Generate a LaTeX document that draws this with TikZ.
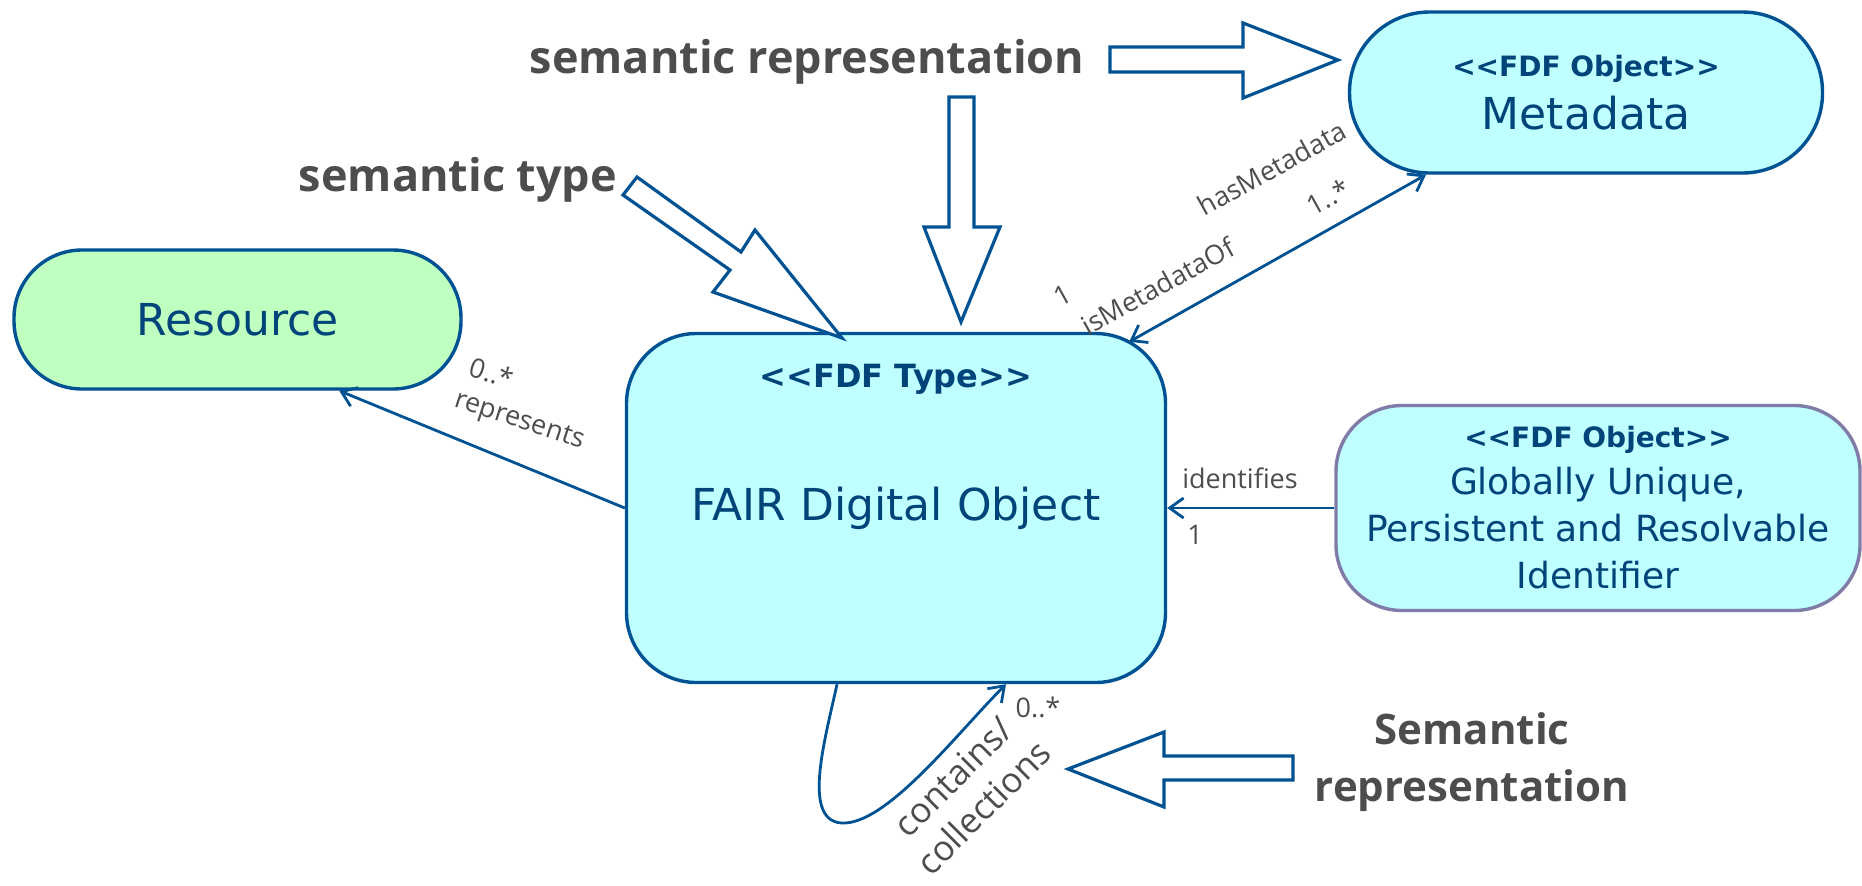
\documentclass[tikz,border=0pt]{standalone}
\usepackage{fontspec}
\setmainfont{DejaVu Sans}
\newfontfamily\notefont{Open Sans}
\usetikzlibrary{arrows.meta}

\definecolor{umlblue}{RGB}{0,82,147}
\definecolor{umltext}{RGB}{0,68,122}
\definecolor{fdocyan}{RGB}{191,255,255}
\definecolor{resgreen}{RGB}{191,255,192}
\definecolor{pidborder}{RGB}{128,124,168}
\definecolor{notegray}{RGB}{77,77,77}

\newcommand{\stereo}[1]{<\kern0pt<#1>\kern0pt>}

\begin{document}
\begin{tikzpicture}[x=0.5pt, y=-0.5pt,
    box/.style={draw=umlblue, line width=1.7pt, fill=fdocyan, text=umltext, align=center, inner sep=0pt},
    assoc/.style={draw=umlblue, line width=1.4pt},
    endarrow/.style={-{Straight Barb[length=7pt, width=10pt, line width=1.4pt]}},
    role/.style={text=notegray, font=\notefont\fontsize{13.5}{16}\selectfont, inner sep=1pt},
    hollow/.style={draw=umlblue, line width=1.6pt, fill=white, line join=miter},
    remark/.style={text=notegray, font=\notefont\bfseries\fontsize{22.5}{28.5}\selectfont, align=center, inner sep=0pt}]
\useasboundingbox (0,0) rectangle (1862,885);

\node [box, fill=resgreen, minimum width=223.5pt, minimum height=69.5pt, rounded corners=34pt,
       font=\fontsize{22}{26}\selectfont] (res) at (237.5,319.5) {Resource};
\node [box, minimum width=269.5pt, minimum height=174.5pt, rounded corners=35pt,
       font=\fontsize{22}{26}\selectfont] (fdo) at (896,508) {FAIR Digital Object};
\node [text=umltext, font=\bfseries\fontsize{16}{18}\selectfont] (fdotype) at ([yshift=-23.5pt]fdo.north) {\stereo{FDF Type}};
\node [box, minimum width=236.5pt, minimum height=80.5pt, rounded corners=40pt,
       font=\fontsize{22}{24}\selectfont] (md) at (1586,92.5)
       {{\bfseries\fontsize{14}{24}\selectfont\stereo{FDF Object}}\\[2.5pt]Metadata};
\node [box, draw=pidborder, minimum width=262pt, minimum height=102.5pt, rounded corners=33pt,
       font=\fontsize{18}{23.5}\selectfont] (pid) at (1598,508)
       {{\bfseries\fontsize{14}{23.5}\selectfont\stereo{FDF Object}}\\Globally Unique,\\Persistent and Resolvable\\Identifier};

% associations
\draw [assoc, endarrow] (fdo.west) -- (res.-35);
\node [role, rotate=-18] (resmult) at (492,373) {0..*};
\node [role, rotate=-18] (resrole) at (519,422) {represents};

\draw [assoc, {Straight Barb[length=7pt, width=10pt, line width=1.4pt]}-{Straight Barb[length=7pt, width=10pt, line width=1.4pt]}]
  ([xshift=-19pt, yshift=-5pt]fdo.north east) -- ([xshift=-80pt]md.south);
\node [role, rotate=29] (mdrole) at (1272,168) {hasMetadata};
\node [role, rotate=29] (mdmult) at (1328,197) {1..*};
\node [role, rotate=29] (fdorole) at (1158,286) {isMetadataOf};
\node [role, rotate=29] (fdomult) at (1063,295) {1};

\draw [assoc, endarrow] (pid.west) -- (fdo.east);
\node [role] (pidrole) at (1240,478) {identifies};
\node [role] (pidmult) at (1195,535) {1};

\draw [assoc, endarrow] ([xshift=-29.5pt]fdo.south) .. controls (825,740) and (800,825) .. (845,823)
  .. controls (890,821) and (960,730) .. ([xshift=55pt]fdo.south);
\node [role] (loopmult) at (1038,707) {0..*};
\node [role, rotate=45, font=\notefont\fontsize{17.5}{21.5}\selectfont, align=center] (looprole) at (968,792) {contains/\\collections};

% semantic hints
\node [remark] (semrep) at (807,62) {semantic representation};
\node [remark] (semtype) at (458,180) {semantic type};
\node [remark, font=\notefont\bfseries\fontsize{21}{28.5}\selectfont] (semrep2) at (1472,762) {Semantic\\representation};

\draw [hollow] (1110,47) -- (1243,47) -- (1243,23) -- (1338,60) -- (1243,98) -- (1243,72) -- (1110,72) -- cycle;
\draw [hollow] (949,97) -- (974,97) -- (974,227) -- (1000,227) -- (961,322) -- (924,227) -- (949,227) -- cycle;
\draw [hollow] (637,177) -- (741,252) -- (755,230) -- (842,338) -- (713,292) -- (730,270) -- (623,195) -- cycle;
\draw [hollow] (1293,756) -- (1164,756) -- (1164,732) -- (1068,769) -- (1164,807) -- (1164,780) -- (1293,780) -- cycle;

\end{tikzpicture}
\end{document}
